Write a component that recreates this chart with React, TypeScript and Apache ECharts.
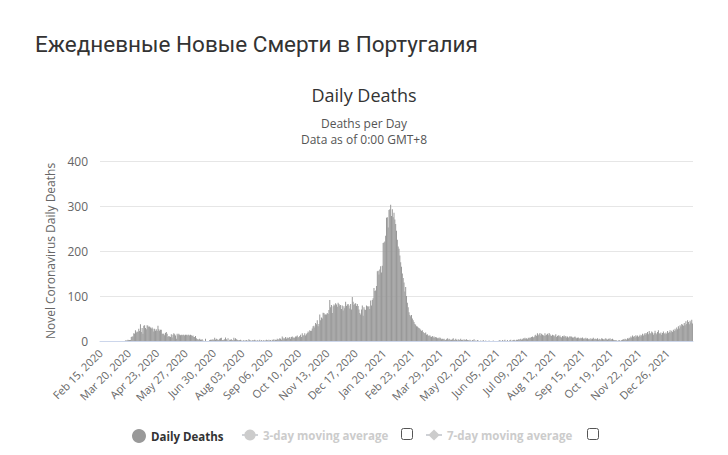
import React, { useEffect, useRef } from "react";
import * as echarts from "echarts";

// Daily deaths, one array per month (start: Feb 15, 2020)
const feb2020 = [0,0,0,0,0,0,0,0,0,0,0,0,0,0,0];
const mar2020 = [0,0,0,0,0,0,0,0,0,0,0,0,0,0,0,1,1,1,3,2,2,2,9,10,10,17,16,24,19,21,20];
const apr2020 = [27,22,37,20,29,16,34,35,29,26,35,34,31,32,30,28,30,27,21,27,23,26,22,34,26,23,25,25,16,16];
const may2020 = [16,13,18,20,16,9,11,10,9,15,8,14,17,15,12,5,16,13,16,14,13,14,13,14,14,12,14,14,12,14,14];
const jun2020 = [12,14,13,11,12,9,9,11,6,4,4,3,5,3,3,4,1,0,0,5,0,0,0,0,2,3,3,3,4,2];
const jul2020 = [7,3,5,4,2,3,5,6,7,2,2,3,4,8,4,1,6,0,3,3,4,2,1,7,3,6,4,3,2,1,2];
const aug2020 = [3,1,0,1,2,0,1,2,1,0,4,2,1,0,2,0,2,3,1,0,2,0,1,3,0,2,0,1,2,0,1];
const sep2020 = [3,2,0,3,1,2,0,3,2,4,1,3,2,5,3,4,6,5,3,10,7,4,6,9,5,8,6,7,9,5];
const oct2020 = [9,10,7,8,7,10,10,12,8,9,11,14,9,17,12,13,17,12,15,18,21,19,24,22,23,28,33,34,30,40,37];
const nov2020 = [46,33,38,59,46,52,50,63,62,59,59,59,62,60,69,91,75,80,62,77,81,79,84,81,76,85,82,79,80,71];
const dec2020 = [79,68,77,73,87,78,81,82,79,72,82,70,98,87,80,83,84,78,82,78,70,62,59,70,79,56,75,70,69,79,77];
const jan2021 = [76,77,71,90,79,91,95,118,111,112,122,155,156,148,159,166,152,167,218,219,221,234,274,275,252,291,293,303,278,293,275];
const feb2021 = [285,270,260,245,225,210,205,190,175,165,150,140,130,110,120,100,85,75,64,58,55,58,50,46,42,38,36,33];
const mar2021 = [32,30,29,27,25,22,24,20,18,17,19,14,15,12,11,13,10,9,11,8,10,7,9,8,6,7,5,8,6,4,5];
const apr2021 = [4,5,3,2,4,6,3,5,4,2,3,4,6,3,2,5,3,1,4,2,3,5,2,3,1,4,2,3,4,2];
const may2021 = [2,0,3,1,0,2,1,4,0,1,0,2,1,0,0,1,0,0,2,0,0,1,0,0,0,1,0,0,0,0,1];
const jun2021 = [0,0,0,0,0,0,1,2,0,0,2,0,1,3,0,0,2,0,0,2,3,0,1,2,3,2,0,3,2,4];
const jul2021 = [3,4,5,3,4,6,5,7,5,6,4,7,6,8,7,9,10,8,9,12,14,11,17,13,15,18,12,16,14,13,11];
const aug2021 = [17,12,14,16,13,18,15,12,11,14,13,10,12,15,9,11,13,10,12,9,8,11,10,12,9,11,8,10,7,9,11];
const sep2021 = [9,10,8,7,9,10,8,6,7,8,6,5,7,6,8,5,6,4,7,5,6,4,5,3,6,4,5,7,4,5];
const oct2021 = [5,4,6,3,5,4,3,6,5,4,3,5,6,4,3,5,4,6,3,4,5,3,2,1,2,1,0,1,2,1,0];
const nov2021 = [2,3,4,3,5,4,3,6,5,7,6,10,8,12,9,11,8,13,10,12,9,11,14,10,13,16,12,15,18,14];
const dec2021 = [17,20,15,22,18,16,21,19,14,17,23,18,15,20,24,17,16,19,14,18,21,17,15,19,16,22,18,20,24,19,23];
const jan2022 = [20,25,22,27,24,30,26,33,28,35,32,38,36,34,40,35,44,38,46,42,37,45,41,47,39];

const dailyDeaths = [
  ...feb2020, ...mar2020, ...apr2020, ...may2020, ...jun2020, ...jul2020, ...aug2020,
  ...sep2020, ...oct2020, ...nov2020, ...dec2020, ...jan2021, ...feb2021, ...mar2021,
  ...apr2021, ...may2021, ...jun2021, ...jul2021, ...aug2021, ...sep2021, ...oct2021,
  ...nov2021, ...dec2021, ...jan2022,
];

const startDate = { year: 2020, month: 1, day: 15 };
const monthNames = ["Jan","Feb","Mar","Apr","May","Jun","Jul","Aug","Sep","Oct","Nov","Dec"];
const categories = dailyDeaths.map((_, i) => {
  const d = new Date(Date.UTC(startDate.year, startDate.month, startDate.day + i));
  const dd = String(d.getUTCDate()).padStart(2, "0");
  return `${monthNames[d.getUTCMonth()]} ${dd}, ${d.getUTCFullYear()}`;
});

const yTicks = { min: 0, max: 400, interval: 100 };
const pageTitle = "Ежедневные Новые Смерти в Португалия";
const chartTitle = "Daily Deaths";
const subtitleLines = ["Deaths per Day", "Data as of 0:00 GMT+8"];
const yName = "Novel Coronavirus Daily Deaths";
const seriesNames = ["Daily Deaths", "3-day moving average", "7-day moving average"];

const FONT = "'Open Sans', 'Noto Sans', sans-serif";

export default function App() {
  const ref = useRef<HTMLDivElement>(null);
  useEffect(() => {
    document.body.style.margin = "0";
    const chart = echarts.init(ref.current!, null, { renderer: "svg" });
    const legendText = { fontFamily: FONT, fontSize: 11.5, fontWeight: "bold", color: "#333" };
    chart.setOption({
      animation: false,
      backgroundColor: "#ffffff",
      title: [
        {
          text: pageTitle,
          left: 30,
          top: 27,
          textStyle: { fontFamily: "Roboto, 'Liberation Sans', sans-serif", fontSize: 22.5, fontWeight: "normal", color: "#333" },
        },
        {
          text: chartTitle,
          left: "center",
          top: 81,
          textStyle: { fontFamily: FONT, fontSize: 18, fontWeight: "normal", color: "#333" },
        },
      ],
      grid: { left: 100, right: 35, top: 161, bottom: 114, containLabel: false },
      legend: [
        {
          data: [seriesNames[0]],
          left: 127,
          top: 424,
          itemWidth: 14,
          itemHeight: 14,
          icon: "circle",
          textStyle: legendText,
        },
        {
          data: [seriesNames[1]],
          left: 236,
          top: 424,
          itemWidth: 16,
          itemHeight: 14,
          inactiveColor: "#ccc",
          selected: { [seriesNames[1]]: false },
          textStyle: legendText,
        },
        {
          data: [seriesNames[2]],
          left: 420,
          top: 424,
          itemWidth: 16,
          itemHeight: 14,
          inactiveColor: "#ccc",
          selected: { [seriesNames[2]]: false },
          textStyle: legendText,
        },
      ],
      graphic: [
        {
          type: "text",
          x: 364,
          y: 115,
          style: {
            text: subtitleLines.join("\n"),
            align: "center",
            verticalAlign: "top",
            font: `12px ${FONT}`,
            lineHeight: 16.5,
            fill: "#555",
          },
        },
        { type: "rect", left: 401, top: 428, shape: { width: 11, height: 11, r: 2 }, style: { fill: "#fff", stroke: "#555", lineWidth: 1 } },
        { type: "rect", left: 587, top: 428, shape: { width: 11, height: 11, r: 2 }, style: { fill: "#fff", stroke: "#555", lineWidth: 1 } },
      ],
      xAxis: {
        type: "category",
        data: categories,
        boundaryGap: true,
        axisLine: { show: true, lineStyle: { color: "#ccd6eb" } },
        axisTick: { show: false },
        axisLabel: {
          interval: 33,
          rotate: 45,
          fontFamily: FONT,
          fontSize: 11,
          color: "#666",
          margin: 10,
        },
        splitLine: { show: false },
      },
      yAxis: {
        type: "value",
        min: yTicks.min,
        max: yTicks.max,
        interval: yTicks.interval,
        name: yName,
        nameLocation: "middle",
        nameGap: 44,
        nameTextStyle: { fontFamily: FONT, fontSize: 12, color: "#666" },
        axisLine: { show: false },
        axisTick: { show: false },
        axisLabel: { fontFamily: FONT, fontSize: 12, color: "#666", margin: 12 },
        splitLine: { lineStyle: { color: "#e6e6e6" } },
      },
      series: [
        {
          name: seriesNames[0],
          type: "bar",
          data: dailyDeaths,
          barCategoryGap: "15%",
          itemStyle: { color: "#999999" },
          emphasis: { disabled: true },
        },
        {
          name: seriesNames[1],
          type: "line",
          data: [],
          symbol: "circle",
          symbolSize: 6,
          itemStyle: { color: "#ccc" },
          lineStyle: { color: "#ccc" },
        },
        {
          name: seriesNames[2],
          type: "line",
          data: [],
          symbol: "diamond",
          symbolSize: 7,
          itemStyle: { color: "#ccc" },
          lineStyle: { color: "#ccc" },
        },
      ],
    });
    return () => chart.dispose();
  }, []);
  return <div ref={ref} style={{ width: 728, height: 455 }} />;
}
